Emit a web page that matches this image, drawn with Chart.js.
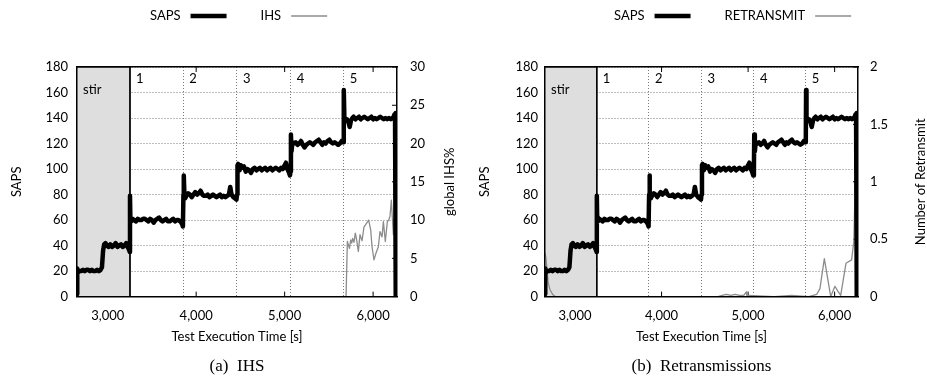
<!DOCTYPE html>
<html>
<head>
<meta charset="utf-8">
<script src="https://cdn.jsdelivr.net/npm/chart.js@4/dist/chart.umd.min.js"></script>
<style>
  html, body { margin: 0; padding: 0; background: #fff; }
  .wrap { position: relative; width: 927px; height: 381px; }
  .panel { position: absolute; top: 0; }
  #panelA { left: 0; }
  #panelB { left: 463px; }
</style>
</head>
<body>
<div class="wrap">
  <div class="panel" id="panelA"><canvas id="chartA" width="463" height="381"></canvas></div>
  <div class="panel" id="panelB"><canvas id="chartB" width="464" height="381"></canvas></div>
</div>
<script>
// Eixo do tempo
const timeMin = 2653;
const timeMax = 6270;
const timeTicks = [3000, 4000, 5000, 6000];

// Fases do teste
const phaseStarts = [3252, 3854, 4461, 5068, 5667];
const phaseNames = ['1', '2', '3', '4', '5'];
const stirName = 'stir';

// Ticks dos eixos
const sapsTicks = [0, 20, 40, 60, 80, 100, 120, 140, 160, 180];
const ihsTicks = [0, 5, 10, 15, 20, 25, 30];
const retxTicks = [0, 0.5, 1, 1.5, 2];

// SAPS (igual nos dois gráficos)
const sapsTime = [
  2653, 2656, 2665, 2680, 2700, 2720, 2740, 2760, 2780, 2800, 2820, 2840, 2860, 2880, 2900, 2920, 2935, 2948,
  2960, 2975, 2990, 3010, 3030, 3050, 3070, 3090, 3110, 3130, 3150, 3170, 3190, 3210, 3225, 3240, 3250,
  3252, 3256, 3265, 3280, 3300, 3320, 3340, 3360, 3380, 3400, 3420, 3440, 3460, 3480, 3500, 3520, 3540,
  3560, 3580, 3600, 3620, 3640, 3660, 3680, 3700, 3720, 3740, 3760, 3780, 3800, 3820, 3840, 3850,
  3856, 3860, 3866, 3875, 3890, 3910, 3930, 3950, 3970, 3990, 4010, 4030, 4050, 4070, 4090, 4110, 4130,
  4150, 4170, 4190, 4210, 4230, 4250, 4270, 4290, 4310, 4330, 4350, 4370, 4385, 4400, 4420, 4440, 4455,
  4462, 4467, 4475, 4490, 4505, 4520, 4540, 4560, 4580, 4600, 4620, 4640, 4660, 4680, 4700, 4720, 4740,
  4760, 4780, 4800, 4820, 4840, 4860, 4880, 4900, 4920, 4940, 4960, 4980, 5000, 5015, 5030, 5045, 5060,
  5067, 5071, 5078, 5088, 5105, 5125, 5145, 5165, 5185, 5205, 5225, 5245, 5265, 5285, 5305, 5325, 5345,
  5365, 5385, 5405, 5425, 5445, 5465, 5485, 5505, 5525, 5545, 5565, 5585, 5605, 5625, 5645, 5662,
  5667, 5670, 5675, 5690, 5705, 5720, 5735, 5750, 5765, 5780, 5800, 5820, 5840, 5860, 5880, 5900, 5920,
  5940, 5960, 5980, 6000, 6020, 6040, 6060, 6080, 6100, 6120, 6140, 6160, 6180, 6200, 6220, 6232, 6242,
  6248, 6253, 6256, 6258
];
const sapsValue = [
  2, 22, 19, 20, 20, 21, 20, 21, 21, 20, 21, 20, 20, 21, 20, 21, 23, 36,
  41, 42, 40, 39, 41, 39, 40, 42, 39, 40, 41, 39, 40, 42, 39, 37, 35,
  79, 62, 59, 61, 60, 59, 61, 60, 60, 61, 61, 60, 59, 61, 60, 58, 60,
  61, 62, 60, 59, 60, 61, 59, 59, 60, 61, 59, 60, 60, 59, 57, 55,
  80, 95, 82, 77, 79, 81, 80, 78, 80, 82, 80, 81, 83, 80, 79, 79, 80,
  78, 79, 80, 79, 78, 79, 80, 78, 79, 78, 79, 80, 86, 80, 78, 77, 76,
  80, 103, 104, 99, 103, 101, 102, 98, 100, 99, 97, 100, 101, 99, 100, 101, 99,
  100, 101, 99, 100, 101, 99, 100, 101, 100, 99, 101, 100, 103, 105, 100, 98, 95,
  98, 127, 114, 121, 120, 121, 119, 120, 122, 119, 117, 119, 120, 121, 120, 119, 121,
  122, 123, 121, 119, 121, 120, 122, 123, 121, 120, 121, 120, 119, 120, 122, 121,
  125, 162, 141, 138, 139, 137, 133, 138, 140, 141, 139, 140, 141, 139, 140, 141, 140,
  139, 140, 141, 139, 140, 139, 140, 141, 140, 139, 140, 139, 140, 139, 140, 141, 143,
  139, 144, 142, 0
];

// IHS global (%)
const ihsTime = [5694, 5709, 5732, 5747, 5758, 5769, 5784, 5799, 5814, 5833, 5852, 5875, 5897, 5927, 5950, 5973,
  5988, 6010, 6033, 6059, 6078, 6101, 6116, 6138, 6161, 6176, 6191, 6206, 6229, 6251, 6267];
const ihsValue = [0, 7.2, 6.3, 7.4, 7.0, 7.6, 7.1, 8.3, 7.4, 5.9, 8.1, 7.3, 9.1, 9.6, 10.0, 8.7,
  6.5, 4.8, 5.7, 6.5, 8.5, 7.8, 9.8, 7.2, 9.8, 10.0, 10.5, 12.6, 8.1, 11.7, 8.5];

// Retransmissões
const retxTime = [2653, 2665, 2690, 2711, 2740, 2770, 3000, 3500, 4000, 4500, 4650, 4700, 4750, 4800, 4850,
  4900, 4950, 4980, 4985, 5000, 5300, 5500, 5700, 5793, 5830, 5881, 5955, 6004, 6035, 6070, 6131, 6196,
  6222, 6238, 6252];
const retxValue = [0.38, 0.33, 0.12, 0.06, 0.02, 0, 0, 0, 0, 0, 0, 0.01, 0.02, 0.01, 0.02,
  0.01, 0.01, 0.04, 0.01, 0.01, 0, 0.01, 0, 0.02, 0.07, 0.33, 0, 0.09, 0.05, 0.01, 0.29, 0.32,
  0.48, 1.0, 1.02];

const FONT = 'Lato';
const GRID = '#7a7a7a';
const toPoints = (xs, ys) => xs.map((x, i) => ({ x: x, y: ys[i] }));
const fixTicks = arr => scale => { scale.ticks = arr.map(v => ({ value: v })); };

// Legenda estilo gnuplot: texto e depois a linha
const lineLegend = {
    id: 'lineLegend',
    afterDraw(chart, args, opts) {
        const ctx = chart.ctx;
        let x = opts.x;
        ctx.save();
        ctx.font = '13px ' + FONT;
        ctx.textBaseline = 'middle';
        chart.data.datasets.filter(d => d.inLegend).forEach(d => {
            ctx.fillStyle = '#000';
            ctx.fillText(d.label, x, opts.y);
            x += ctx.measureText(d.label).width + 10;
            ctx.strokeStyle = d.borderColor;
            ctx.lineWidth = d.borderWidth;
            ctx.beginPath();
            ctx.moveTo(x, opts.y);
            ctx.lineTo(x + 36, opts.y);
            ctx.stroke();
            x += 36 + 34;
        });
        ctx.restore();
    }
};

// Título do eixo direito lido de baixo para cima
const sideTitle = {
    id: 'sideTitle',
    afterDraw(chart, args, opts) {
        const ctx = chart.ctx;
        const area = chart.chartArea;
        ctx.save();
        ctx.font = '13px ' + FONT;
        ctx.fillStyle = '#000';
        ctx.textAlign = 'center';
        ctx.textBaseline = 'middle';
        ctx.translate(opts.x, (area.top + area.bottom) / 2);
        ctx.rotate(-Math.PI / 2);
        ctx.fillText(opts.text, 0, 0);
        ctx.restore();
    }
};

// Marcas de tick para dentro (estilo gnuplot), por baixo das séries
const innerTicks = {
    id: 'innerTicks',
    beforeDatasetsDraw(chart) {
        const ctx = chart.ctx;
        const a = chart.chartArea;
        const len = 5;
        ctx.save();
        ctx.strokeStyle = '#000';
        ctx.lineWidth = 1;
        ctx.beginPath();
        chart.scales.x.ticks.forEach(t => {
            const px = chart.scales.x.getPixelForValue(t.value);
            ctx.moveTo(px, a.bottom); ctx.lineTo(px, a.bottom - len);
            ctx.moveTo(px, a.top); ctx.lineTo(px, a.top + len);
        });
        chart.scales.y2.ticks.forEach(t => {
            const py = chart.scales.y2.getPixelForValue(t.value);
            ctx.moveTo(a.right, py); ctx.lineTo(a.right - len, py);
        });
        ctx.stroke();
        ctx.restore();
    }
};

// Rótulos das fases
const phaseLabels = {
    id: 'phaseLabels',
    afterDatasetsDraw(chart) {
        const ctx = chart.ctx;
        const area = chart.chartArea;
        const xs = chart.scales.x;
        ctx.save();
        ctx.font = '13px ' + FONT;
        ctx.fillStyle = '#000';
        ctx.textBaseline = 'middle';
        ctx.fillText(stirName, area.left + 6, area.top + 23);
        phaseStarts.forEach((t, i) => {
            ctx.fillText(phaseNames[i], xs.getPixelForValue(t) + 6, area.top + 12);
        });
        ctx.restore();
    }
};

function buildChart(canvasId, cfg) {
    const stirPoints = [
        { x: timeMin, y: 180 },
        { x: phaseStarts[0], y: 180 },
        { x: phaseStarts[0], y: 0 }
    ];

    return new Chart(document.getElementById(canvasId), {
        type: 'line',
        data: {
            datasets: [
                {
                    label: 'SAPS',
                    data: toPoints(sapsTime, sapsValue),
                    borderColor: '#000',
                    borderWidth: 4.5,
                    borderJoinStyle: 'round',
                    pointRadius: 0,
                    tension: 0,
                    yAxisID: 'y',
                    order: 0,
                    inLegend: true
                },
                {
                    label: cfg.sideLabel,
                    data: toPoints(cfg.sideTime, cfg.sideValue),
                    borderColor: '#8c8c8c',
                    borderWidth: 1.3,
                    borderJoinStyle: 'round',
                    pointRadius: 0,
                    tension: 0,
                    yAxisID: 'y2',
                    order: 1,
                    inLegend: true
                },
                {
                    label: stirName,
                    data: stirPoints,
                    borderColor: '#000',
                    borderWidth: 1,
                    backgroundColor: '#dedede',
                    fill: 'origin',
                    pointRadius: 0,
                    yAxisID: 'y',
                    order: 5
                }
            ]
        },
        options: {
            responsive: false,
            animation: false,
            layout: { padding: { top: 67, left: 0, right: 0, bottom: 0 } },
            plugins: {
                legend: { display: false },
                tooltip: { enabled: false },
                title: {
                    display: true,
                    position: 'bottom',
                    fullSize: false,
                    text: cfg.caption,
                    color: '#000',
                    font: { family: 'Liberation Serif', size: 17, weight: 'normal' },
                    padding: { top: 10, bottom: 4 }
                },
                lineLegend: { x: cfg.legendX, y: 16 },
                sideTitle: { x: cfg.sideTitleX, text: cfg.sideTitle }
            },
            scales: {
                x: {
                    type: 'linear',
                    position: 'bottom',
                    min: timeMin,
                    max: timeMax,
                    afterBuildTicks: fixTicks(timeTicks),
                    afterFit: s => { s.height = 50; },
                    grid: { display: false },
                    border: { display: true, color: '#000', width: 1.5, z: 1 },
                    ticks: {
                        color: '#000',
                        padding: 3,
                        font: { family: FONT, size: 13 },
                        callback: v => v.toLocaleString('en-US')
                    },
                    title: {
                        display: true,
                        text: 'Test Execution Time [s]',
                        color: '#000',
                        font: { family: FONT, size: 13 },
                        padding: { top: 0, bottom: 2 }
                    }
                },
                xp: {
                    type: 'linear',
                    position: 'bottom',
                    min: timeMin,
                    max: timeMax,
                    afterBuildTicks: fixTicks(phaseStarts.slice(1)),
                    afterFit: s => { s.height = 0; },
                    ticks: { display: false },
                    grid: { color: GRID, lineWidth: 1, drawTicks: false },
                    border: { display: false, dash: [1, 2] }
                },
                xTop: {
                    type: 'linear',
                    position: 'top',
                    min: timeMin,
                    max: timeMax,
                    afterFit: s => { s.height = 0; },
                    ticks: { display: false },
                    grid: { display: false },
                    border: { display: true, color: '#000', width: 1.5, z: 1 }
                },
                y: {
                    position: 'left',
                    min: 0,
                    max: 180,
                    afterBuildTicks: fixTicks(sapsTicks),
                    afterFit: s => { s.width = cfg.leftWidth; },
                    grid: { color: GRID, lineWidth: 1, drawTicks: false },
                    border: { display: true, color: '#000', width: 1.5, dash: [1, 2], z: 1 },
                    ticks: {
                        color: '#000',
                        padding: cfg.leftPad,
                        font: { family: FONT, size: 13 }
                    },
                    title: {
                        display: true,
                        text: 'SAPS',
                        color: '#000',
                        font: { family: FONT, size: 13 },
                        padding: { top: cfg.leftTitlePad, bottom: 0 }
                    }
                },
                y2: {
                    position: 'right',
                    min: 0,
                    max: cfg.sideMax,
                    afterBuildTicks: fixTicks(cfg.sideTicks),
                    afterFit: s => { s.width = cfg.rightWidth; },
                    grid: { drawOnChartArea: false, drawTicks: false },
                    border: { display: true, color: '#000', width: 1.5, z: 1 },
                    ticks: {
                        color: '#000',
                        padding: cfg.rightPad,
                        font: { family: FONT, size: 13 },
                        callback: v => String(v)
                    }
                }
            }
        },
        plugins: [lineLegend, sideTitle, phaseLabels, innerTicks]
    });
}

buildChart('chartA', {
    caption: '(a)  IHS',
    sideLabel: 'IHS',
    sideTime: ihsTime,
    sideValue: ihsValue,
    sideMax: 30,
    sideTicks: ihsTicks,
    sideTitle: 'global IHS%',
    sideTitleX: 450,
    legendX: 150,
    leftWidth: 77,
    rightWidth: 66,
    leftPad: 9,
    rightPad: 13,
    leftTitlePad: 9
});

buildChart('chartB', {
    caption: '(b)  Retransmissions',
    sideLabel: 'RETRANSMIT',
    sideTime: retxTime,
    sideValue: retxValue,
    sideMax: 2,
    sideTicks: retxTicks,
    sideTitle: 'Number of Retransmit',
    sideTitleX: 458,
    legendX: 151,
    leftWidth: 82,
    rightWidth: 69,
    leftPad: 7,
    rightPad: 12,
    leftTitlePad: 14
});
</script>
</body>
</html>
